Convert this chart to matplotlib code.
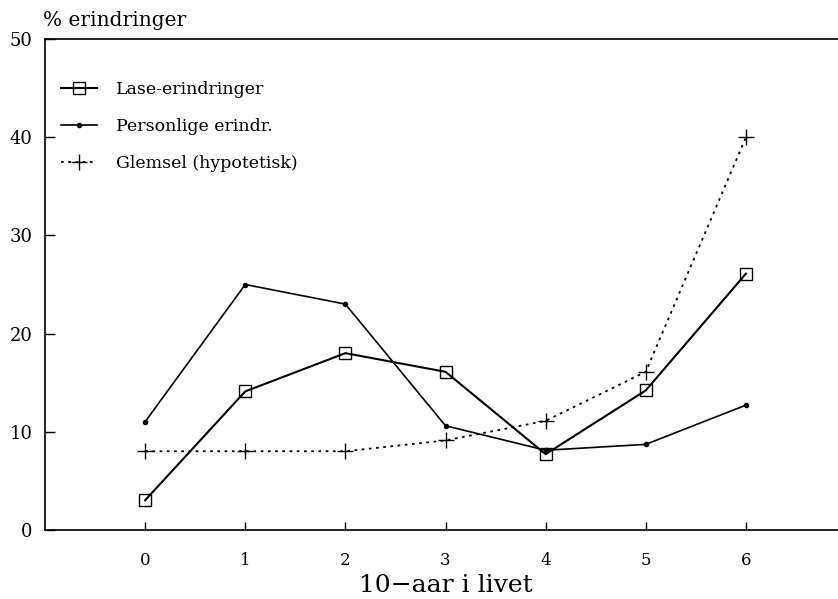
import numpy as np
import matplotlib
matplotlib.use("Agg")
import matplotlib.pyplot as plt

# data
decades = [0, 1, 2, 3, 4, 5, 6]
lase = [3.0, 14.1, 18.0, 16.1, 7.7, 14.2, 26.1]
personlige = [11.0, 25.0, 23.0, 10.6, 8.1, 8.7, 12.7]
glemsel = [8.0, 8.0, 8.0, 9.1, 11.1, 16.1, 40.0]
yticks = [0, 10, 20, 30, 40, 50]

plt.rcParams['font.family'] = ['DejaVu Serif']

fig = plt.figure(figsize=(8.38, 5.99), dpi=100)
ax = fig.add_axes([45 / 838, 1 - 529.7 / 599, 801 / 838, 490.4 / 599])

ax.plot(decades, lase, color='black', lw=1.5, marker='s', ms=9,
        mfc='none', mec='black', mew=1.0, label='Lase-erindringer')
ax.plot(decades, personlige, color='black', lw=1.2, marker='o', ms=3,
        mfc='black', mec='black', label='Personlige erindr.')
ax.plot(decades, glemsel, color='black', lw=1.3, ls=(0, (1.5, 2.5)),
        marker='+', ms=11, mew=1.0, label='Glemsel (hypotetisk)')

ax.set_xlim(-1, 7)
ax.set_ylim(0, 50)
ax.set_xticks(decades)
ax.set_yticks(yticks)
ax.tick_params(axis='x', direction='in', length=6, width=1, pad=16, labelsize=12)
ax.tick_params(axis='y', direction='in', length=7, width=1, pad=9, labelsize=13)
for s in ax.spines.values():
    s.set_linewidth(1.2)
ax.spines['right'].set_visible(False)

ax.text(3, -0.113, '10\u2212aar i livet', transform=ax.get_xaxis_transform(),
        ha='center', va='center', fontsize=18)
fig.text(43 / 838, 1 - 20 / 599, '% erindringer', ha='left', va='center', fontsize=14.5)

leg = ax.legend(loc='upper left', bbox_to_anchor=(0.0, 0.947), frameon=False,
                fontsize=12.5, handlelength=2.1, handletextpad=1.1, labelspacing=1.15)

fig.savefig('out.png', dpi=100)
